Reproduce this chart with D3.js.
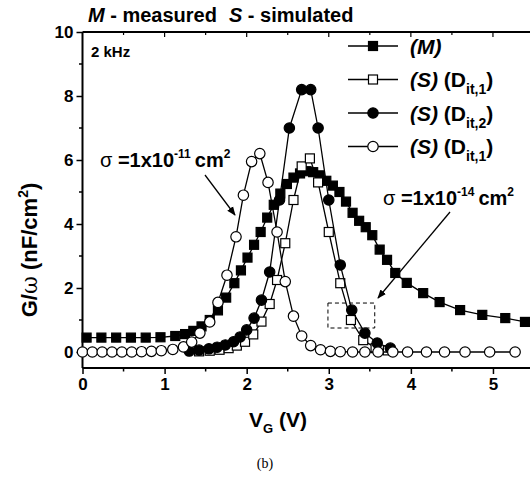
<!DOCTYPE html>
<html>
<head>
<meta charset="utf-8">
<script src="https://cdn.jsdelivr.net/npm/d3@7"></script>
<style>
  body { margin: 0; background: #fff; }
  svg { display: block; font-family: "Liberation Sans", Arial, sans-serif; }
  .tick-label { font-size: 17px; font-weight: bold; }
</style>
</head>
<body>
<svg id="chart" width="530" height="478"></svg>
<script>
// Measured G/w (filled squares)
const measuredV = [0.05,0.23,0.41,0.59,0.77,0.95,1.13,1.25,1.35,1.45,1.55,1.65,1.75,1.85,1.93,2.01,2.09,2.17,2.25,2.33,2.41,2.49,2.57,2.65,2.73,2.81,2.89,2.97,3.05,3.13,3.21,3.29,3.37,3.45,3.53,3.62,3.71,3.81,3.95,4.15,4.35,4.60,4.87,5.15,5.39];
const measuredG = [0.45,0.45,0.45,0.45,0.45,0.46,0.5,0.56,0.66,0.8,1.0,1.3,1.7,2.15,2.55,2.95,3.35,3.75,4.2,4.6,4.95,5.25,5.45,5.58,5.65,5.62,5.52,5.35,5.2,5.0,4.7,4.35,4.1,3.9,3.65,3.2,2.88,2.47,2.16,1.84,1.56,1.31,1.16,1.06,0.94];

// Simulated, Dit,1 (open squares)
const simSqV = [1.42,1.55,1.67,1.78,1.88,1.98,2.08,2.18,2.28,2.37,2.47,2.57,2.67,2.77,2.87,3.0,3.14,3.27,3.42,3.57,3.72];
const simSqG = [0.02,0.04,0.07,0.12,0.2,0.32,0.55,0.95,1.5,2.25,3.4,4.75,5.8,6.05,5.3,3.75,2.15,1.0,0.37,0.12,0.05];

// Simulated, Dit,2 (filled circles)
const simDotV = [1.3,1.42,1.54,1.64,1.74,1.84,1.92,2.0,2.09,2.18,2.28,2.4,2.52,2.67,2.78,2.87,3.0,3.14,3.28,3.44,3.59,3.75];
const simDotG = [0.03,0.06,0.1,0.15,0.22,0.32,0.47,0.69,1.06,1.62,2.5,4.75,7.0,8.2,8.2,7.0,4.75,2.72,1.31,0.59,0.28,0.12];

// Simulated, Dit,1 with sigma = 1e-11 (open circles)
const simCircV = [0.0,0.12,0.24,0.36,0.48,0.6,0.72,0.84,0.96,1.1,1.23,1.33,1.43,1.55,1.65,1.76,1.87,1.96,2.06,2.16,2.26,2.37,2.47,2.57,2.67,2.78,2.9,3.02,3.14,3.29,3.44,3.6,3.78,3.96,4.19,4.41,4.66,4.96,5.27];
const simCircG = [0,0,0,0,0,0,0.01,0.02,0.04,0.08,0.16,0.31,0.59,0.94,1.55,2.4,3.6,4.9,5.95,6.2,5.3,3.75,2.2,1.12,0.5,0.2,0.07,0.02,0.01,0,0,0,0,0,0,0,0,0,0];

const xTicks = [0, 1, 2, 3, 4, 5];
const yTicks = [0, 2, 4, 6, 8, 10];

const svg = d3.select('#chart');

const x = d3.scaleLinear().domain([0, 5.5]).range([82.5, 534]);
const y = d3.scaleLinear().domain([-0.5, 10]).range([368, 32]);

const zip = (vs, gs) => vs.map((v, i) => ({ v, g: gs[i] }));
const line = d3.line().x(d => x(d.v)).y(d => y(d.g));

// axes
const xAxis = svg.append('g').attr('transform', `translate(0,${y(-0.5)})`)
    .call(d3.axisBottom(x).tickValues(xTicks).tickSize(6).tickPadding(4).tickFormat(d3.format('d')));
xAxis.append('g').selectAll('line')
    .data(d3.range(0.5, 5.5, 1)).enter().append('line')
    .attr('x1', d => x(d)).attr('x2', d => x(d)).attr('y1', 0).attr('y2', 3.5)
    .attr('stroke', '#000').attr('stroke-width', 1.5);

const yAxis = svg.append('g').attr('transform', `translate(${x(0)},0)`)
    .call(d3.axisLeft(y).tickValues(yTicks).tickSize(6).tickPadding(3).tickFormat(d3.format('d')));
yAxis.append('g').selectAll('line')
    .data(d3.range(1, 10, 2)).enter().append('line')
    .attr('x1', 0).attr('x2', -3.5).attr('y1', d => y(d)).attr('y2', d => y(d))
    .attr('stroke', '#000').attr('stroke-width', 1.5);

[xAxis, yAxis].forEach(a => {
  a.select('.domain').remove();
  a.selectAll('.tick line').attr('stroke-width', 1.5);
  a.selectAll('.tick text').attr('class', 'tick-label').attr('fill', '#000');
});

// frame lines
svg.append('line').attr('x1', x(0)).attr('x2', 530).attr('y1', y(-0.5)).attr('y2', y(-0.5))
    .attr('stroke', '#000').attr('stroke-width', 2);
svg.append('line').attr('x1', x(0)).attr('x2', x(0)).attr('y1', y(10)).attr('y2', y(-0.5))
    .attr('stroke', '#000').attr('stroke-width', 2);
svg.append('line').attr('x1', x(0)).attr('x2', 530).attr('y1', y(10)).attr('y2', y(10))
    .attr('stroke', '#000').attr('stroke-width', 2);
svg.append('g').selectAll('line')
    .data(d3.range(0.5, 5.5, 0.5)).enter().append('line')
    .attr('x1', d => x(d)).attr('x2', d => x(d))
    .attr('y1', y(10)).attr('y2', d => y(10) + (d % 1 === 0 ? 5 : 3))
    .attr('stroke', '#000').attr('stroke-width', 1.2);

// series
const plot = svg.append('g');

function drawSeries(data, shape, filled) {
  plot.append('path').datum(data)
      .attr('fill', 'none').attr('stroke', '#000').attr('stroke-width', 1.3)
      .attr('d', line);
  const fill = filled ? '#000' : '#fff';
  if (shape === 'square') {
    plot.append('g').selectAll('rect').data(data).enter().append('rect')
        .attr('x', d => x(d.v) - 4.5).attr('y', d => y(d.g) - 4.5)
        .attr('width', 9).attr('height', 9)
        .attr('fill', fill).attr('stroke', '#000').attr('stroke-width', 1.2);
  } else {
    plot.append('g').selectAll('circle').data(data).enter().append('circle')
        .attr('cx', d => x(d.v)).attr('cy', d => y(d.g)).attr('r', 5.2)
        .attr('fill', fill).attr('stroke', '#000').attr('stroke-width', 1.2);
  }
}

drawSeries(zip(measuredV, measuredG), 'square', true);
drawSeries(zip(simSqV, simSqG), 'square', false);
drawSeries(zip(simDotV, simDotG), 'circle', true);
drawSeries(zip(simCircV, simCircG), 'circle', false);

// dashed box
svg.append('rect')
    .attr('x', x(2.99)).attr('y', y(1.53))
    .attr('width', x(3.56) - x(2.99)).attr('height', y(0.75) - y(1.53))
    .attr('fill', 'none').attr('stroke', '#000').attr('stroke-width', 1)
    .attr('stroke-dasharray', '4,3');

// arrows
svg.append('defs').append('marker')
    .attr('id', 'arrow').attr('viewBox', '0 0 10 10')
    .attr('refX', 9).attr('refY', 5).attr('markerWidth', 9).attr('markerHeight', 9)
    .attr('orient', 'auto').attr('markerUnits', 'userSpaceOnUse')
  .append('path').attr('d', 'M0,1 L10,5 L0,9 Z').attr('fill', '#000');

svg.append('line').attr('x1', 205).attr('y1', 175).attr('x2', 235).attr('y2', 215)
    .attr('stroke', '#000').attr('stroke-width', 1.3).attr('marker-end', 'url(#arrow)');
svg.append('line').attr('x1', 450).attr('y1', 212).attr('x2', 378).attr('y2', 298)
    .attr('stroke', '#000').attr('stroke-width', 1.3).attr('marker-end', 'url(#arrow)');

// sigma labels
function sigmaLabel(xp, yp, exp) {
  const t = svg.append('text').attr('x', xp).attr('y', yp)
      .attr('font-size', 20).attr('font-weight', 'bold');
  t.append('tspan').attr('font-weight', 'normal').text('σ');
  t.append('tspan').text(' =1x10');
  t.append('tspan').attr('dy', -9).attr('font-size', 12).text(exp);
  t.append('tspan').attr('dy', 9).attr('dx', 4).text('cm');
  t.append('tspan').attr('dy', -9).attr('font-size', 12).text('2');
}
sigmaLabel(100, 167, '-11');
sigmaLabel(383, 205, '-14');

// title
const title = svg.append('text').attr('x', 88).attr('y', 22)
    .attr('font-size', 20).attr('font-weight', 'bold');
title.append('tspan').attr('font-style', 'italic').text('M');
title.append('tspan').text(' - measured');
title.append('tspan').attr('dx', 12).attr('font-style', 'italic').text('S');
title.append('tspan').text(' - simulated');

svg.append('text').attr('x', 91).attr('y', 57)
    .attr('font-size', 15).attr('font-weight', 'bold').text('2 kHz');

// legend
const legendRows = [
  { shape: 'square', filled: true, label: '(M)', sub: null },
  { shape: 'square', filled: false, label: '(S)', sub: 'it,1' },
  { shape: 'circle', filled: true, label: '(S)', sub: 'it,2' },
  { shape: 'circle', filled: false, label: '(S)', sub: 'it,1' }
];
const legend = svg.append('g');
legendRows.forEach((r, i) => {
  const cy = 46 + i * 33.5;
  legend.append('line').attr('x1', 348).attr('x2', 398).attr('y1', cy).attr('y2', cy)
      .attr('stroke', '#000').attr('stroke-width', 1.3);
  if (r.shape === 'square') {
    legend.append('rect').attr('x', 368.5).attr('y', cy - 4.5).attr('width', 9).attr('height', 9)
        .attr('fill', r.filled ? '#000' : '#fff').attr('stroke', '#000').attr('stroke-width', 1.2);
  } else {
    legend.append('circle').attr('cx', 373).attr('cy', cy).attr('r', 5.2)
        .attr('fill', r.filled ? '#000' : '#fff').attr('stroke', '#000').attr('stroke-width', 1.2);
  }
  const t = legend.append('text').attr('x', 410).attr('y', cy + 7.5)
      .attr('font-size', 21).attr('font-weight', 'bold');
  t.append('tspan').attr('font-style', 'italic').text(r.label);
  if (r.sub) {
    t.append('tspan').text(' (D');
    t.append('tspan').attr('dy', 7).attr('font-size', 14).text(r.sub);
    t.append('tspan').attr('dy', -7).text(')');
  }
});

// axis titles
const yl = svg.append('text').attr('transform', 'translate(37,250) rotate(-90)')
    .attr('text-anchor', 'middle').attr('font-size', 22).attr('font-weight', 'bold');
yl.append('tspan').text('G/');
yl.append('tspan').attr('font-weight', 'normal').attr('font-family', '"DejaVu Serif", serif').text('ω');
yl.append('tspan').text(' (nF/cm');
yl.append('tspan').attr('dy', -9).attr('font-size', 14).text('2');
yl.append('tspan').attr('dy', 9).text(')');

const xl = svg.append('text').attr('x', 278).attr('y', 427)
    .attr('text-anchor', 'middle').attr('font-size', 21).attr('font-weight', 'bold');
xl.append('tspan').text('V');
xl.append('tspan').attr('dy', 6).attr('font-size', 13).text('G');
xl.append('tspan').attr('dy', -6).text(' (V)');

svg.append('text').attr('x', 265).attr('y', 468).attr('text-anchor', 'middle')
    .attr('font-family', '"Liberation Serif", "Times New Roman", serif').attr('font-size', 14)
    .text('(b)');
</script>
</body>
</html>
